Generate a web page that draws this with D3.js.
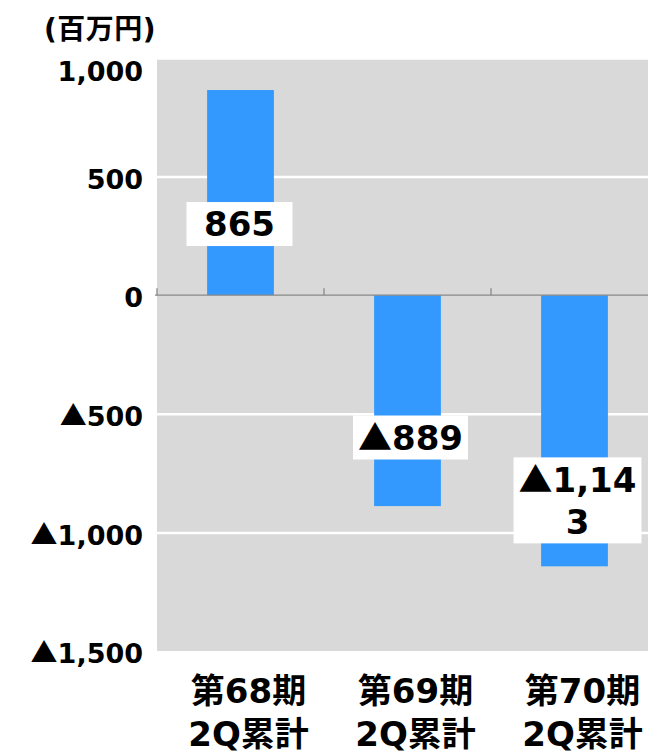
<!DOCTYPE html>
<html><head><meta charset="utf-8">
<script src="https://cdn.jsdelivr.net/npm/d3@7"></script>
<style>
html,body{margin:0;padding:0;background:#fff;}
svg{display:block;}
text{font-family:"DejaVu Sans","Noto Sans CJK JP",sans-serif;font-weight:bold;fill:#000;}
.tri{font-family:"Noto Sans CJK JP",sans-serif;}
</style></head>
<body>
<svg id="c" width="648" height="753"></svg>
<script>
// ---- data ----
const categories = [["第68期","2Q累計"],["第69期","2Q累計"],["第70期","2Q累計"]];
const values = [865, -889, -1143];
const labelAt = [300, -600, -865];
const yTicks = [1000, 500, 0, -500, -1000, -1500];
const gridTicks = [1000, 500, -500, -1000];
const unitLabel = "(百万円)";

(function () {
// ---- layout ----
const svg = d3.select("#c");
const pL = 157, pR = 658, pT = 58, pB = 651;
const x = d3.scaleBand().domain(d3.range(categories.length)).range([pL, pR]).paddingInner(0.6).paddingOuter(0.3);
const y = d3.scaleLinear().domain([-1500, 1000]).range([pB, pT]);
const fmt = v => (v < 0 ? "▲" : "") + d3.format(",")(Math.abs(v));

// write a string into a text/tspan parent, with ▲ drawn from the CJK font
function writeMarked(sel, s) {
  if (s.startsWith("▲")) {
    sel.append("tspan").attr("class", "tri").text("▲");
    sel.append("tspan").text(s.slice(1));
  } else {
    sel.append("tspan").text(s);
  }
}

// plot background
svg.append("rect").attr("x", pL).attr("y", pT).attr("width", pR - pL).attr("height", pB - pT).attr("fill", "#d9d9d9");

// gridlines
const grid = svg.append("g").attr("transform", `translate(${pL},0)`)
  .call(d3.axisLeft(y).tickValues(gridTicks).tickSize(-(pR - pL)).tickFormat(""));
grid.select(".domain").remove();
grid.selectAll("line").attr("stroke", "#fff").attr("stroke-width", 2.5);

// y labels
const ya = svg.append("g").attr("transform", `translate(${pL},0)`)
  .call(d3.axisLeft(y).tickValues(yTicks).tickSize(0).tickPadding(14).tickFormat(fmt));
ya.select(".domain").remove();
ya.selectAll("text").attr("font-size", 27).attr("font-family", null).attr("font-weight", "bold")
  .attr("fill", "#000").attr("dy", "0.36em")
  .attr("y", d => Math.max(0, pT + 11 - y(d)) + 2)
  .each(function (d) { const t = d3.select(this); t.text(""); writeMarked(t, fmt(d)); });
ya.attr("font-family", null);

// unit label
svg.append("text").attr("x", 100).attr("y", 39).attr("text-anchor", "middle").attr("font-size", 28)
  .attr("letter-spacing", 0.5).text(unitLabel);

// bars
const bw = x.bandwidth();
svg.append("g").selectAll("rect").data(values).join("rect")
  .attr("x", (d, i) => x(i)).attr("width", bw)
  .attr("y", d => y(Math.max(0, d))).attr("height", d => Math.abs(y(d) - y(0)))
  .attr("fill", "#3399ff");

// zero axis line + ticks at band boundaries
const step = x.step();
svg.append("line").attr("x1", pL - 2).attr("x2", pR).attr("y1", y(0)).attr("y2", y(0)).attr("stroke", "#888").attr("stroke-width", 1.3);
const bounds = d3.range(categories.length + 1).map(i => x(0) - x.paddingOuter() * step + i * step);
svg.append("g").selectAll("line").data(bounds).join("line")
  .attr("x1", d => d).attr("x2", d => d).attr("y1", y(0) - 7).attr("y2", y(0))
  .attr("stroke", "#888").attr("stroke-width", 1.3);

// value labels
const lg = svg.append("g");
values.forEach((v, i) => {
  const s = fmt(v);
  const lines = s.length > 5 ? [s.slice(0, 5), s.slice(5)] : [s];
  const cx = x(i) + bw / 2 + (v < 0 ? 3 : -1);
  const cy = y(labelAt[i]);
  const lh = 42;
  const g = lg.append("g");
  const rect = g.append("rect").attr("fill", "#fff");
  lines.forEach((l, k) => {
    const t = g.append("text").attr("text-anchor", "middle").attr("font-size", 34)
      .attr("x", cx).attr("y", cy + (k - (lines.length - 1) / 2) * lh).attr("dy", "0.36em");
    writeMarked(t, l);
  });
  let wmax = 0;
  g.selectAll("text").each(function () { wmax = Math.max(wmax, this.getBBox().width); });
  const w = Math.max(106, wmax + 10);
  const h = lines.length * lh + 2;
  rect.attr("x", cx - w / 2).attr("y", cy - h / 2).attr("width", w).attr("height", h);
});

// category labels
const cg = svg.append("g");
categories.forEach((c, i) => {
  const t = cg.append("text").attr("text-anchor", "middle").attr("font-size", 34);
  c.forEach((l, k) => {
    t.append("tspan").attr("x", x(i) + bw / 2 + 8).attr("y", 691 + k * 43).attr("dy", "0.36em").text(l);
  });
});
})();
</script>
</body></html>
